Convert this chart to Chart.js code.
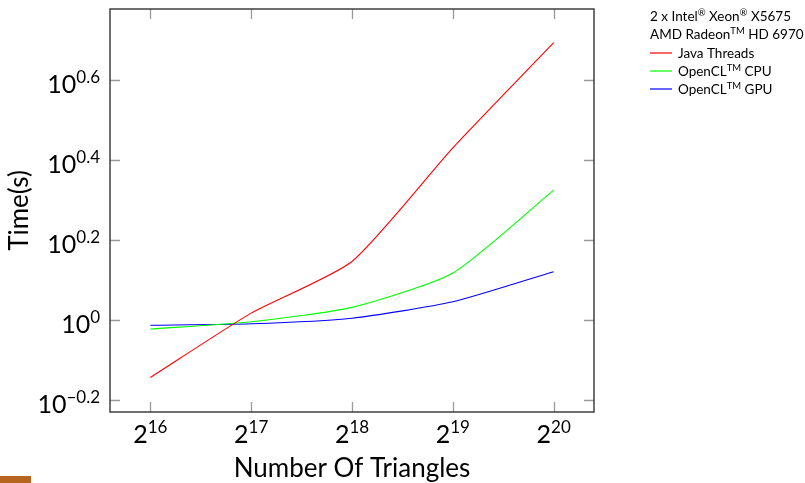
<!DOCTYPE html>
<html>
<head>
<meta charset="utf-8">
<script src="https://cdn.jsdelivr.net/npm/chart.js@4/dist/chart.umd.min.js"></script>
<style>
  html, body { margin: 0; padding: 0; background: #fff; }
  canvas { display: block; }
</style>
</head>
<body>
<canvas id="cv1" width="805" height="483"></canvas>
<script>

// number of triangles: 2^16 .. 2^20
const triangles = [65536, 131072, 262144, 524288, 1048576];
const xTickExp = ["16", "17", "18", "19", "20"];

// time in seconds
const javaThreads = [0.718, 1.04, 1.40, 2.69, 4.93];
const openclCpu = [0.949, 0.990, 1.075, 1.31, 2.11];
const openclGpu = [0.970, 0.978, 1.010, 1.11, 1.32];

const yTickExp = ["\u22120.2", "0", "0.2", "0.4", "0.6"];
const yTickVals = [-0.2, 0, 0.2, 0.4, 0.6];

const colors = ["#ff0000", "#00ff00", "#0000ff"];

const font = "Lato, 'DejaVu Sans', sans-serif";


function drawRich(ctx, segs, x, y, size, supSize, rise, align) {
    let w = 0;
    const parts = segs.map(s => {
        ctx.font = (s[1] ? supSize : size) + "px " + font;
        const pw = ctx.measureText(s[0]).width;
        w += pw;
        return pw;
    });
    let cx = x;
    if (align == "center") cx = x - w / 2;
    if (align == "right") cx = x - w;
    ctx.textAlign = "left";
    ctx.textBaseline = "alphabetic";
    segs.forEach((s, i) => {
        ctx.font = (s[1] ? supSize : size) + "px " + font;
        ctx.fillText(s[0], cx, s[1] ? y - rise : y);
        cx += parts[i];
    });
}


const pgfLook = {
    id: "pgfLook",
    afterDraw(chart) {
        const ctx = chart.ctx;
        const a = chart.chartArea;
        const xs = chart.scales.x;
        const ys = chart.scales.y;
        ctx.save();

        // ticks inside the box, on all four sides
        ctx.strokeStyle = "#9a9a9a";
        ctx.lineWidth = 1.3;
        ctx.beginPath();
        triangles.forEach(t => {
            const px = Math.round(xs.getPixelForValue(t)) + 0.5;
            ctx.moveTo(px, a.bottom); ctx.lineTo(px, a.bottom - 10);
            ctx.moveTo(px, a.top); ctx.lineTo(px, a.top + 10);
        });
        yTickVals.forEach(v => {
            const py = Math.round(ys.getPixelForValue(Math.pow(10, v))) + 0.5;
            ctx.moveTo(a.left, py); ctx.lineTo(a.left + 10, py);
            ctx.moveTo(a.right, py); ctx.lineTo(a.right - 10, py);
        });
        ctx.stroke();

        // box
        ctx.strokeStyle = "#333";
        ctx.lineWidth = 1.4;
        ctx.strokeRect(a.left, a.top, a.right - a.left, a.bottom - a.top);

        // tick labels
        ctx.fillStyle = "#000";
        triangles.forEach((t, i) => {
            const px = xs.getPixelForValue(t);
            drawRich(ctx, [["2", 0], [xTickExp[i], 1]], px, a.bottom + 31, 25, 17, 10, "center");
        });
        yTickVals.forEach((v, i) => {
            const py = ys.getPixelForValue(Math.pow(10, v));
            drawRich(ctx, [["10", 0], [yTickExp[i], 1]], a.left - 10, py + 13, 25, 17, 10, "right");
        });

        // axis titles
        ctx.font = "26px " + font;
        ctx.textAlign = "center";
        ctx.textBaseline = "alphabetic";
        ctx.fillText("Number Of Triangles", (a.left + a.right) / 2, 477);
        ctx.save();
        ctx.translate(28, (a.top + a.bottom) / 2);
        ctx.rotate(-Math.PI / 2);
        ctx.fillText("Time(s)", 0, 0);
        ctx.restore();

        // legend
        const lx = 650;
        drawRich(ctx, [["2 x Intel", 0], ["\u00ae", 1], [" Xeon", 0], ["\u00ae", 1], [" X5675", 0]], lx, 21, 13.5, 9.5, 5, "left");
        drawRich(ctx, [["AMD Radeon", 0], ["TM", 1], [" HD 6970", 0]], lx, 39, 13.5, 9.5, 5, "left");
        const names = [[["Java Threads", 0]], [["OpenCL", 0], ["TM", 1], [" CPU", 0]], [["OpenCL", 0], ["TM", 1], [" GPU", 0]]];
        names.forEach((nm, i) => {
            const ly = 53 + i * 18;
            ctx.strokeStyle = colors[i];
            ctx.lineWidth = 1.2;
            ctx.beginPath();
            ctx.moveTo(lx, ly); ctx.lineTo(lx + 22, ly);
            ctx.stroke();
            drawRich(ctx, nm, lx + 28, ly + 5, 13.5, 9.5, 5, "left");
        });

        // slide footer remnant
        ctx.fillStyle = "#b5651d";
        ctx.fillRect(0, 476, 31, 7);
        ctx.restore();
    }
};


function makeSeries(label, values, color) {
    return {
        label: label,
        data: triangles.map((t, i) => ({ x: t, y: values[i] })),
        borderColor: color,
        borderWidth: 1.1,
        pointRadius: 0,
        fill: false,
        tension: 0.2
    };
}


new Chart(document.getElementById("cv1"), {
    type: "line",
    data: {
        datasets: [
            makeSeries("Java Threads", javaThreads, colors[0]),
            makeSeries("OpenCL CPU", openclCpu, colors[1]),
            makeSeries("OpenCL GPU", openclGpu, colors[2])
        ]
    },
    options: {
        responsive: false,
        animation: false,
        layout: { padding: { left: 110, top: 9, right: 211, bottom: 71 } },
        plugins: { legend: { display: false }, tooltip: { enabled: false } },
        scales: {
            x: { type: "logarithmic", display: false, min: Math.pow(2, 15.6), max: Math.pow(2, 20.4) },
            y: { type: "logarithmic", display: false, min: Math.pow(10, -0.23), max: Math.pow(10, 0.777) }
        }
    },
    plugins: [pgfLook]
});
</script>
</body>
</html>
